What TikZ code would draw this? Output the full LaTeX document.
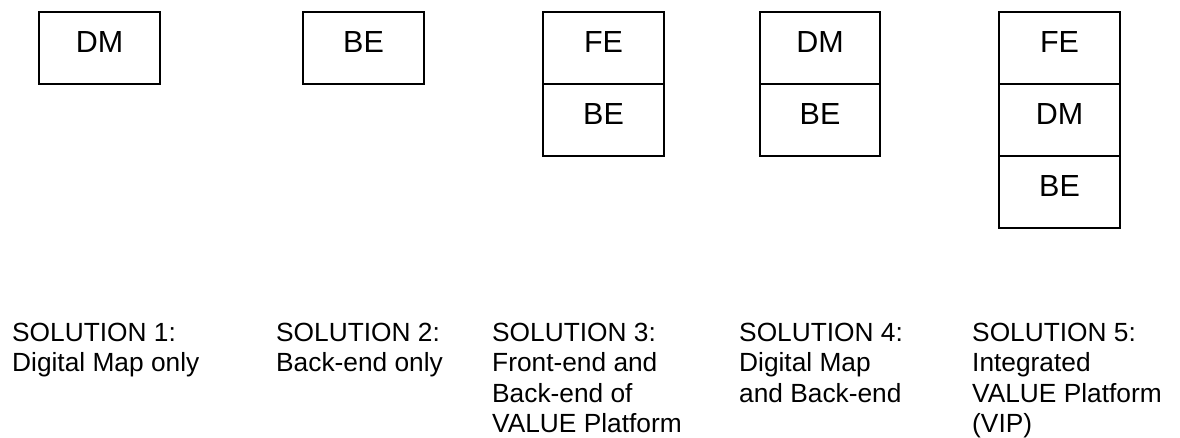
\documentclass[tikz,border=0pt]{standalone}
\usepackage{fontspec}
\setmainfont{Liberation Sans}
\begin{document}
\begin{tikzpicture}[x=1pt, y=-1pt,
  cell/.style={draw, line width=1.6pt, minimum width=121pt, minimum height=72pt,
    inner sep=0pt, outer sep=0pt, font=\fontsize{30.5}{35}\selectfont,
    text height=20pt, text depth=10.6pt},
  narrowcell/.style={cell, minimum width=120pt},
  caption/.style={anchor=base west, inner sep=0pt,
    font=\fontsize{26.3}{30.3}\selectfont}]
\useasboundingbox (0,0) rectangle (1180,438);

% Solution 1: digital map
\node[cell] (s1dm) at (99.5,48) {DM};
% Solution 2: back-end
\node[cell] (s2be) at (363.5,48) {BE};
% Solution 3: front-end on back-end
\node[cell] (s3fe) at (603.5,48) {FE};
\node[cell] (s3be) at (603.5,120) {BE};
% Solution 4: digital map on back-end
\node[narrowcell] (s4dm) at (820,48) {DM};
\node[narrowcell] (s4be) at (820,120) {BE};
% Solution 5: full stack
\node[cell] (s5fe) at (1059.5,48) {FE};
\node[cell] (s5dm) at (1059.5,120) {DM};
\node[cell] (s5be) at (1059.5,192) {BE};

% Captions (baseline of the first line sits on the anchor)
\node[caption] (c1) at (12,341.5)
  {\vtop{\hbox{SOLUTION 1:}\hbox{Digital Map only}}};
\node[caption] (c2) at (276,341.5)
  {\vtop{\hbox{SOLUTION 2:}\hbox{Back-end only}}};
\node[caption] (c3) at (492,341.5)
  {\vtop{\hbox{SOLUTION 3:}\hbox{Front-end and}\hbox{Back-end of}\hbox{VALUE Platform}}};
\node[caption] (c4) at (739,341.5)
  {\vtop{\hbox{SOLUTION 4:}\hbox{Digital Map}\hbox{and Back-end}}};
\node[caption] (c5) at (972,341.5)
  {\vtop{\hbox{SOLUTION 5:}\hbox{Integrated}\hbox{VALUE Platform}\hbox{(VIP)}}};
\end{tikzpicture}
\end{document}
